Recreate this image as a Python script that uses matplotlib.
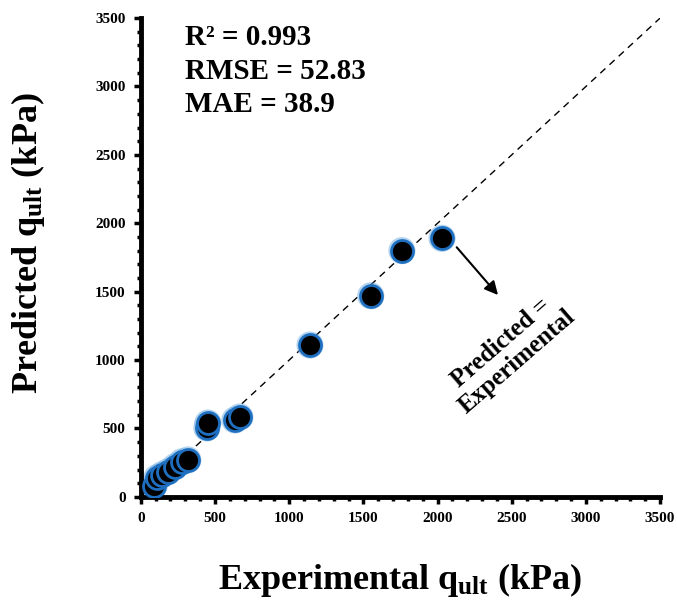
import matplotlib
matplotlib.use('Agg')
import matplotlib.pyplot as plt
import numpy as np
from matplotlib.ticker import MultipleLocator

plt.rcParams['font.family'] = 'Liberation Serif'
plt.rcParams['font.weight'] = 'bold'
plt.rcParams['mathtext.fontset'] = 'custom'
plt.rcParams['mathtext.rm'] = 'Liberation Serif:bold'
plt.rcParams['mathtext.it'] = 'Liberation Serif:bold'
plt.rcParams['mathtext.bf'] = 'Liberation Serif:bold'

# experimental vs predicted bearing capacity (kPa)
experimental = [90, 108, 142, 182, 229, 276, 317, 445, 452, 634, 668, 1140, 1550, 1760, 2030]
predicted = [80, 139, 161, 183, 219, 256, 270, 504, 540, 562, 584, 1110, 1470, 1800, 1890]
stats_text = 'R² = 0.993\nRMSE = 52.83\nMAE = 38.9'
ticks = [0, 500, 1000, 1500, 2000, 2500, 3000, 3500]

fig = plt.figure(figsize=(6.77, 6.03), dpi=100)
ax = fig.add_axes([0.208, 0.176, 0.767, 0.794])

# 1:1 line
ax.plot([0, 3500], [0, 3500], color='black', lw=1, ls=(0, (5, 4)), zorder=1)

# glow behind markers
ax.scatter(experimental, predicted, s=290, facecolor='none', edgecolor='#6aaae0',
           linewidth=2.5, alpha=0.5, zorder=2)
ax.scatter(experimental, predicted, s=250, facecolor='black', edgecolor='#1f6fc0',
           linewidth=2, zorder=3)

ax.set_xlim(0, 3500)
ax.set_ylim(0, 3500)
ax.set_xticks(ticks)
ax.set_yticks(ticks)
ax.xaxis.set_minor_locator(MultipleLocator(100))
ax.yaxis.set_minor_locator(MultipleLocator(100))
ax.tick_params(which='major', direction='out', length=5, width=2.5, labelsize=11, pad=6)
ax.tick_params(which='minor', direction='out', length=3, width=2.5)

for side in ['top', 'right']:
    ax.spines[side].set_visible(False)
for side in ['left', 'bottom']:
    ax.spines[side].set_linewidth(3.5)

ax.set_xlabel(r'Experimental $q_{ult}$ (kPa)', fontsize=26, fontweight='bold', labelpad=26)
ax.set_ylabel(r'Predicted $q_{ult}$ (kPa)', fontsize=26, fontweight='bold')
ax.yaxis.set_label_coords(-0.18, 0.53)

ax.text(0.085, 0.987, stats_text, transform=ax.transAxes, fontsize=21,
        fontweight='bold', va='top', ha='left', linespacing=1.3)

ax.annotate('', xy=(2420, 1460), xytext=(2117, 1840),
            arrowprops=dict(arrowstyle='-|>', color='black', lw=1.5, mutation_scale=20))
ax.text(2480, 1060, 'Predicted =\nExperimental', rotation=41, fontsize=18,
        fontweight='bold', ha='center', va='center', linespacing=1.1)

fig.savefig('out.png', dpi=100)
